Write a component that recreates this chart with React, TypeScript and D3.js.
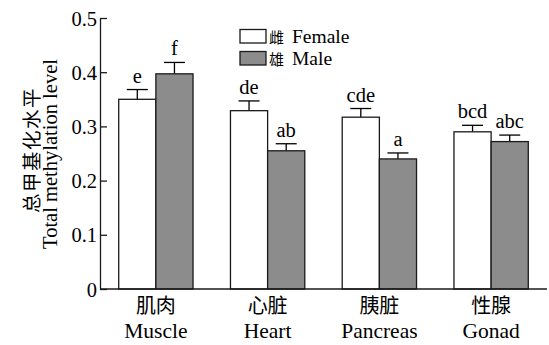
import React, { useEffect, useRef } from "react";
import * as d3 from "d3";

const tissuesCn = ["肌肉", "心脏", "胰脏", "性腺"];
const tissuesEn = ["Muscle", "Heart", "Pancreas", "Gonad"];
const sexes = ["female", "male"];
const femaleMean = [0.35, 0.329, 0.317, 0.29];
const femaleErr = [0.018, 0.018, 0.016, 0.012];
const maleMean = [0.397, 0.255, 0.24, 0.272];
const maleErr = [0.021, 0.013, 0.011, 0.012];
const femaleLetters = ["e", "de", "cde", "bcd"];
const maleLetters = ["f", "ab", "a", "abc"];
const yTicks = [0, 0.1, 0.2, 0.3, 0.4, 0.5];
const legendCn = ["雌", "雄"];
const legendEn = ["Female", "Male"];

const SERIF = "'Liberation Serif', 'Times New Roman', serif";
const CJK = "'Noto Sans CJK SC', sans-serif";

const App = () => {
  const svg = useRef<SVGSVGElement>(null);

  useEffect(() => {
    const width = 549;
    const height = 345;
    const margin = { top: 18, right: 2, bottom: 56, left: 100 };

    const root = d3.select(svg.current);
    root.selectAll("*").remove();

    const x = d3
      .scaleBand()
      .domain(tissuesEn)
      .range([margin.left, width - margin.right])
      .paddingInner(0.335)
      .paddingOuter(0.1675);
    const xs = d3.scaleBand().domain(sexes).range([0, x.bandwidth()]);
    const y = d3.scaleLinear().domain([0, 0.5]).range([height - margin.bottom, margin.top]);
    const fill = d3.scaleOrdinal<string, string>().domain(sexes).range(["#fff", "#8c8c8c"]);

    const data = tissuesEn.flatMap((t, i) => [
      { t, sex: "female", v: femaleMean[i], e: femaleErr[i], lab: femaleLetters[i] },
      { t, sex: "male", v: maleMean[i], e: maleErr[i], lab: maleLetters[i] },
    ]);

    const g = root.append("g");

    // error bars + significance letters
    data.forEach((d) => {
      const cx = (x(d.t) as number) + (xs(d.sex) as number) + xs.bandwidth() / 2;
      g.append("line")
        .attr("x1", cx).attr("x2", cx)
        .attr("y1", y(d.v)).attr("y2", y(d.v + d.e))
        .attr("stroke", "#000").attr("stroke-width", 1.3);
      g.append("line")
        .attr("x1", cx - 10.5).attr("x2", cx + 10.5)
        .attr("y1", y(d.v + d.e)).attr("y2", y(d.v + d.e))
        .attr("stroke", "#000").attr("stroke-width", 1.3);
      g.append("text")
        .attr("x", cx)
        .attr("y", y(d.v + d.e) - 7)
        .attr("text-anchor", "middle")
        .attr("font-family", SERIF)
        .attr("font-size", 20.5)
        .text(d.lab);
    });

    // bars
    g.selectAll("rect.bar")
      .data(data)
      .join("rect")
      .attr("class", "bar")
      .attr("x", (d) => (x(d.t) as number) + (xs(d.sex) as number))
      .attr("y", (d) => y(d.v))
      .attr("width", xs.bandwidth())
      .attr("height", (d) => y(0) - y(d.v))
      .attr("fill", (d) => fill(d.sex))
      .attr("stroke", "#1a1a1a")
      .attr("stroke-width", 1.3);

    // y axis
    const yAxis = root
      .append("g")
      .attr("transform", `translate(${margin.left},0)`)
      .call(d3.axisLeft(y).tickValues(yTicks).tickSizeInner(-7).tickSizeOuter(0)
        .tickFormat((d) => (d === 0 ? "0" : d3.format(".1f")(d as number))));
    yAxis.select(".domain").attr("stroke", "#1a1a1a").attr("stroke-width", 1.3);
    yAxis.selectAll(".tick line").attr("stroke", "#1a1a1a").attr("stroke-width", 1.3);
    yAxis.selectAll(".tick text")
      .attr("font-family", SERIF).attr("font-size", 20.5).attr("fill", "#000")
      .attr("dy", "0.35em").attr("x", -3);

    // x axis
    root.append("line")
      .attr("x1", margin.left).attr("x2", width - margin.right)
      .attr("y1", y(0)).attr("y2", y(0))
      .attr("stroke", "#1a1a1a").attr("stroke-width", 1.3);

    tissuesEn.forEach((t, i) => {
      const cx = (x(t) as number) + x.bandwidth() / 2;
      root.append("text")
        .attr("x", cx).attr("y", 313)
        .attr("text-anchor", "middle")
        .attr("font-family", CJK).attr("font-size", 20)
        .text(tissuesCn[i]);
      root.append("text")
        .attr("x", cx).attr("y", 338)
        .attr("text-anchor", "middle")
        .attr("font-family", SERIF).attr("font-size", 21.5)
        .text(t);
    });

    // y title
    root.append("text")
      .attr("transform", `translate(39,150) rotate(-90)`)
      .attr("text-anchor", "middle")
      .attr("font-family", CJK).attr("font-size", 19.5)
      .attr("letter-spacing", 1.5)
      .text("总甲基化水平");
    root.append("text")
      .attr("transform", `translate(57,154) rotate(-90)`)
      .attr("text-anchor", "middle")
      .attr("font-family", SERIF).attr("font-size", 20.5)
      .text("Total methylation level");

    // legend
    const rowY = (i: number) => 29.5 + i * 22;
    root.selectAll("rect.key")
      .data(sexes)
      .join("rect")
      .attr("class", "key")
      .attr("x", 240).attr("y", (_, i) => rowY(i))
      .attr("width", 26).attr("height", 13.5)
      .attr("fill", (d) => fill(d))
      .attr("stroke", "#1a1a1a").attr("stroke-width", 1.3);
    legendCn.forEach((c, i) => {
      root.append("text")
        .attr("x", 269).attr("y", rowY(i) + 13)
        .attr("font-family", CJK).attr("font-size", 15)
        .text(c);
    });
    legendEn.forEach((c, i) => {
      root.append("text")
        .attr("x", 292).attr("y", rowY(i) + 13.5)
        .attr("font-family", SERIF).attr("font-size", 19.5)
        .text(c);
    });
  }, []);

  return (
    <svg
      ref={svg}
      width={549}
      height={345}
      style={{ position: "absolute", left: 0, top: 0, background: "#fff" }}
    />
  );
};

export default App;
